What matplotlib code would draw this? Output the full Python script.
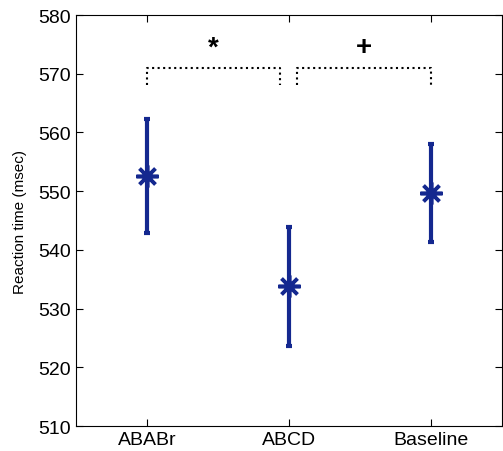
import numpy as np
import matplotlib.pyplot as plt

plt.rcParams['font.family'] = ['Liberation Sans', 'DejaVu Sans']

# Data
conditions = ['ABABr', 'ABCD', 'Baseline']
means = [552.6, 533.8, 549.7]
errors = [9.7, 10.1, 8.4]

# significance brackets: (x_start, x_end, label)
brackets = [(1.0, 1.94, '*'), (2.06, 3.0, '+')]
bracket_top = 571.0
bracket_bottom = 568.0
sig_y = 574.5

x = np.arange(1, len(conditions) + 1)
col = '#14288f'

fig = plt.figure(figsize=(5.03, 4.52), dpi=100)
ax = fig.add_axes([0.151, 0.0553, 0.847, 0.9093])

ax.errorbar(x, means, yerr=errors, fmt='none', ecolor=col, elinewidth=3,
            capsize=2.5, capthick=3)
ax.plot(x, means, linestyle='none', marker=(8, 2, 0), markersize=16,
        markeredgewidth=2.6, color=col)

for x0, x1, lab in brackets:
    ax.plot([x0, x0, x1, x1], [bracket_bottom, bracket_top, bracket_top, bracket_bottom],
            color='black', linestyle=':', linewidth=1.5)
    ax.text((x0 + x1) / 2, sig_y, lab, ha='center', va='center',
            fontsize=20, fontweight='bold')

ax.set_xlim(0.5, 3.5)
ax.set_ylim(510, 580)
ax.set_xticks(x)
ax.set_xticklabels(conditions)
ax.set_yticks(np.arange(510, 581, 10))
ax.tick_params(direction='in', length=5, labelsize=14, top=True, right=True)
ax.set_ylabel('Reaction time (msec)', fontsize=11, labelpad=8)

plt.savefig('out.png', dpi=100)
